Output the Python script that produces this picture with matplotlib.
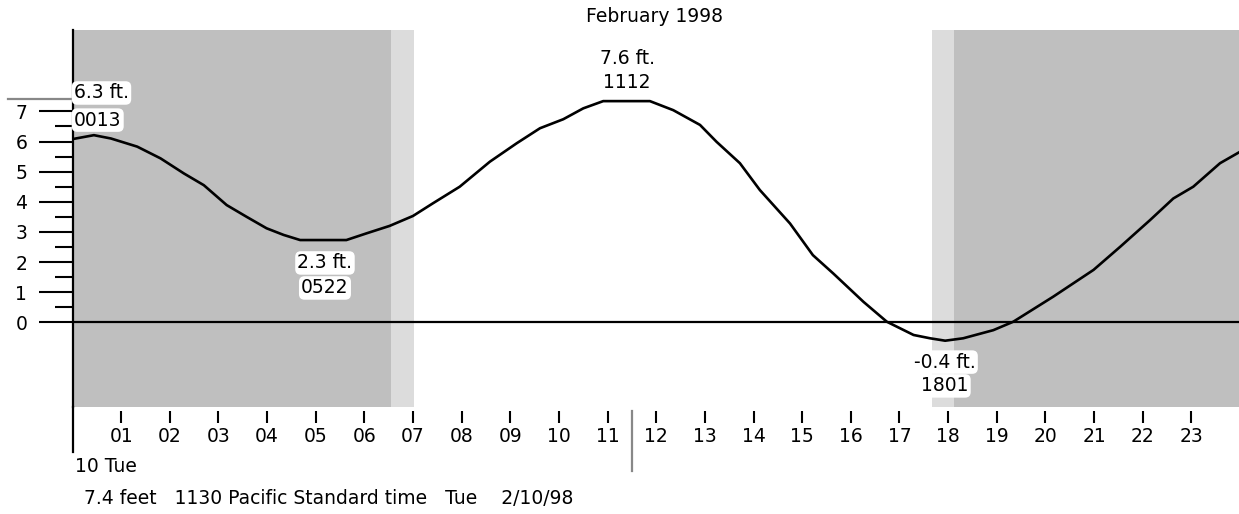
import matplotlib
matplotlib.use("Agg")
import numpy as np
import matplotlib.pyplot as plt

plt.rcParams['font.family'] = ['DejaVu Sans']

# Tide height (ft) through the day
hours = [0.0, 0.44, 0.79, 1.33, 1.81, 2.29, 2.70, 3.17, 3.58, 3.99, 4.34, 4.68,
         5.63, 6.04, 6.52, 7.00, 7.41, 7.96, 8.58, 9.13, 9.61, 10.09, 10.50, 10.91,
         11.87, 12.35, 12.90, 13.24, 13.72, 14.13, 14.75, 15.22, 15.64, 16.26, 16.74,
         17.29, 17.63, 17.94, 18.31, 18.93, 19.34, 20.16, 20.99, 21.54, 22.15, 22.63,
         23.04, 23.59, 23.98]
heights = [6.08, 6.21, 6.10, 5.83, 5.44, 4.94, 4.55, 3.89, 3.50, 3.12, 2.90, 2.73,
           2.73, 2.95, 3.20, 3.53, 3.95, 4.50, 5.33, 5.94, 6.44, 6.74, 7.10, 7.34,
           7.34, 7.04, 6.55, 5.99, 5.28, 4.39, 3.28, 2.23, 1.62, 0.68, 0.02,
           -0.42, -0.53, -0.61, -0.53, -0.26, 0.02, 0.85, 1.74, 2.51, 3.39, 4.11,
           4.50, 5.28, 5.64]

# night / twilight bands (hours)
night = [(0.0, 6.55), (18.12, 24.1)]
twilight = [(6.55, 7.02), (17.67, 18.12)]

# high/low labels
extreme_height = ["6.3 ft.", "7.6 ft.", "2.3 ft.", "-0.4 ft."]
extreme_time = ["0013", "1112", "0522", "1801"]

hour_labels = ["%02d" % h for h in range(1, 24)]
now_hour = 11.5
now_height = 7.4
day_label = "10 Tue"
footer = "7.4 feet   1130 Pacific Standard time   Tue    2/10/98"

W, H = 1239, 514
fig = plt.figure(figsize=(W / 100, H / 100), dpi=100)
ax = fig.add_axes([72.5 / W, 107 / H, (W - 72.5) / W, 377 / H])
ax.set_xlim(0, 23.98)
ax.set_ylim(-2.81, 9.70)

for a, b in night:
    ax.axvspan(a, b, color="#bfbfbf", lw=0, zorder=0)
for a, b in twilight:
    ax.axvspan(a, b, color="#dcdcdc", lw=0, zorder=0)

ax.axhline(0, color="black", lw=1.6, zorder=2)
ax.plot(hours, heights, color="black", lw=1.9, zorder=3)

for s in ["top", "right"]:
    ax.spines[s].set_visible(False)
ax.spines["bottom"].set_visible(False)
ax.spines["bottom"].set_position(("outward", 3))
ax.spines["left"].set_linewidth(1.6)

fs = 13.5

# y ticks
ax.set_yticks(range(0, 8))
ax.set_yticks(np.arange(0.5, 7, 1), minor=True)
ax.tick_params(axis="y", which="major", length=24.5, width=1.5, pad=8, labelsize=fs)
ax.tick_params(axis="y", which="minor", length=13, width=1.5)

# x ticks
ax.set_xticks(range(1, 24))
ax.set_xticklabels(hour_labels)
ax.tick_params(axis="x", which="major", length=8.6, width=1.5, pad=3, labelsize=fs)

# left spine extension below the plot
ax.plot([0, 0], [0, -0.12], transform=ax.transAxes, color="black", lw=1.6, clip_on=False)
# current time marker
ax.plot([now_hour, now_hour], [-0.01, -0.17], transform=ax.get_xaxis_transform(),
        color="#888888", lw=1.6, clip_on=False)
# current height marker
ax.plot([-1.33, 0], [now_height, now_height], color="#888888", lw=1.6, clip_on=False)

box = dict(boxstyle="round,pad=0.12,rounding_size=0.3", fc="white", ec="none")
ax.text(0.03, 7.61, extreme_height[0], ha="left", va="center", fontsize=fs, bbox=box, zorder=4)
ax.text(0.03, 6.71, extreme_time[0], ha="left", va="center", fontsize=fs, bbox=box, zorder=4)
ax.text(11.40, 8.77, extreme_height[1], ha="center", va="center", fontsize=fs, zorder=4)
ax.text(11.40, 7.97, extreme_time[1], ha="center", va="center", fontsize=fs, zorder=4)
ax.text(5.19, 1.97, extreme_height[2], ha="center", va="center", fontsize=fs, bbox=box, zorder=4)
ax.text(5.19, 1.14, extreme_time[2], ha="center", va="center", fontsize=fs, bbox=box, zorder=4)
ax.text(17.93, -1.32, extreme_height[3], ha="center", va="center", fontsize=fs, bbox=box, zorder=4)
ax.text(17.93, -2.11, extreme_time[3], ha="center", va="center", fontsize=fs, bbox=box, zorder=4)

fig.text(655 / W, 1 - 17 / H, "February 1998", ha="center", va="center", fontsize=fs)
fig.text(75 / W, 1 - 467 / H, day_label, ha="left", va="center", fontsize=fs)
fig.text(84 / W, 1 - 498 / H, footer, ha="left", va="center", fontsize=fs)

fig.savefig("out.png", dpi=100)
